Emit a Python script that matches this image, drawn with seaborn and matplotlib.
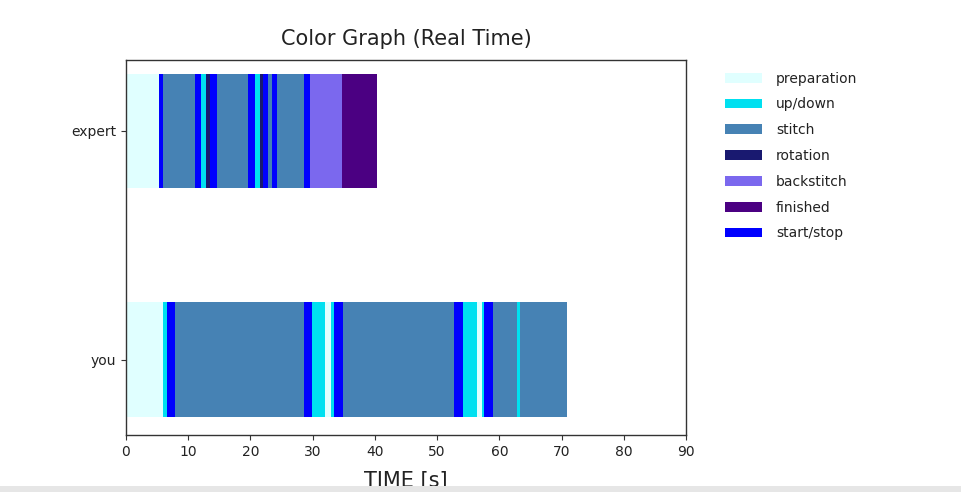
import matplotlib
matplotlib.use("Agg")
import matplotlib.pyplot as plt
import seaborn as sns
from matplotlib.patches import Patch, Rectangle

# ---- data ----
phases = ["preparation", "up/down", "stitch", "rotation", "backstitch", "finished", "start/stop"]
phase_colors = ["#e0ffff", "#00e0f0", "#4682b4", "#191970", "#7b68ee", "#4b0082", "#0000ff"]
rows = ["you", "expert"]

expert_phases = ["preparation", "start/stop", "stitch", "start/stop", "up/down", "rotation",
                 "start/stop", "stitch", "start/stop", "up/down", "rotation", "start/stop",
                 "stitch", "start/stop", "stitch", "start/stop", "backstitch", "finished"]
expert_ends = [5.3, 5.9, 11.1, 12.0, 12.8, 13.5, 14.6, 19.6, 20.7, 21.5, 22.0, 22.8,
               23.4, 24.3, 28.6, 29.6, 34.7, 40.3]

you_phases = ["preparation", "up/down", "start/stop", "stitch", "start/stop", "up/down",
              "preparation", "up/down", "start/stop", "stitch", "start/stop", "up/down",
              "preparation", "up/down", "start/stop", "stitch", "up/down", "stitch"]
you_ends = [6.0, 6.6, 7.8, 28.6, 29.9, 32.0, 33.0, 33.4, 34.8, 52.7, 54.2, 56.4,
            57.2, 57.6, 59.0, 62.8, 63.3, 70.9]

x_ticks = list(range(0, 91, 10))

# ---- style ----
sns.set_theme(style="ticks")
plt.rcParams["font.family"] = ["DejaVu Sans"]
plt.rcParams["axes.edgecolor"] = "#333333"
plt.rcParams["axes.linewidth"] = 1.0

fig = plt.figure(figsize=(9.61, 4.92), dpi=100)
ax = fig.add_axes([126 / 961, 1 - 435 / 492, 560 / 961, 375 / 492])

color_of = dict(zip(phases, phase_colors))
for yi, (ph_list, ends) in enumerate([(you_phases, you_ends), (expert_phases, expert_ends)]):
    start = 0.0
    for ph, end in zip(ph_list, ends):
        ax.barh(yi, end - start, left=start, height=0.5, color=color_of[ph], linewidth=0)
        start = end

ax.set_xlim(0, 90)
ax.set_ylim(-0.33, 1.31)
ax.set_xticks(x_ticks)
ax.set_xticklabels([str(t) for t in x_ticks], fontsize=10, color="#222222")
ax.set_yticks([0, 1])
ax.set_yticklabels(rows, fontsize=10, color="#222222")
ax.tick_params(axis="both", direction="out", length=3.5, width=0.8, color="#333333")
for s in ax.spines.values():
    s.set_visible(True)

ax.set_title("Color Graph (Real Time)", fontsize=15, color="#222222", pad=11)
ax.set_xlabel("TIME [s]", fontsize=15, color="#222222", labelpad=9)

handles = [Patch(facecolor=c, edgecolor="none", label=p) for p, c in zip(phases, phase_colors)]
fig.legend(handles=handles, loc="upper left", bbox_to_anchor=(712 / 961, 1 - 59 / 492),
           frameon=False, fontsize=10, handlelength=2.7, handleheight=0.7,
           handletextpad=1.0, labelspacing=0.85, labelcolor="#222222")

# screenshot bottom strip
fig.patches.append(Rectangle((0, 0), 1, 6 / 492, transform=fig.transFigure,
                             facecolor="#e6e6e6", edgecolor="none", zorder=5))

fig.savefig("out.png", dpi=100)
